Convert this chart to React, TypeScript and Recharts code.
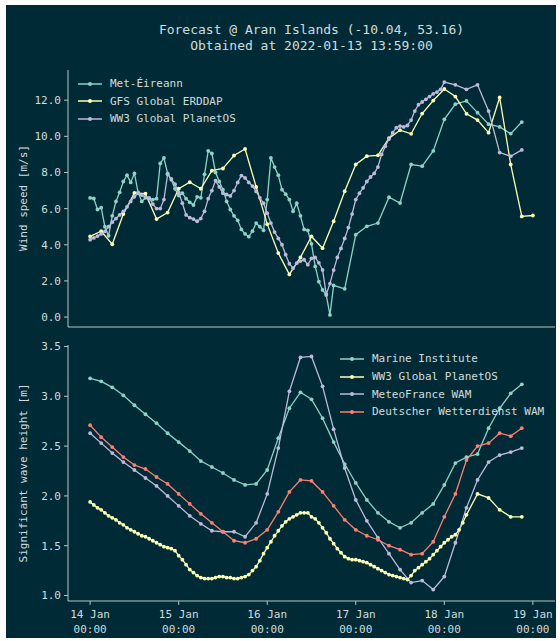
import React from "react";
import { LineChart, Line, XAxis, YAxis, Legend } from "recharts";

const BG = "#002b36";
const FG = "#d2dcdc";
const SPINE = "#b4c6c6";
const MONO = "'DejaVu Sans Mono', monospace";

const TEAL = "#8dd3c7";
const YELLOW = "#ffffb3";
const LAVENDER = "#bebada";
const SALMON = "#fb8072";

// x in hours from 14 Jan 00:00
const xTicks = [0, 24, 48, 72, 96, 120];
const dayLabels = ["14 Jan", "15 Jan", "16 Jan", "17 Jan", "18 Jan", "19 Jan"];
const windTicks = [0, 2, 4, 6, 8, 10, 12];
const waveTicks = [1.0, 1.5, 2.0, 2.5, 3.0, 3.5];

// wind speed [m/s]
const metEireannHourly = [
  6.59, 6.56, 5.95, 6.05, 5.0, 4.5, 5.6, 6.4, 6.9, 7.5,
  7.85, 7.45, 7.95, 6.9, 6.4, 6.6, 6.55, 6.5, 6.55, 8.5,
  8.8, 7.95, 7.6, 7.1, 6.72, 6.85, 6.55, 6.35, 6.2, 6.65,
  6.6, 7.9, 9.2, 9.05, 8.0, 7.5, 7.05, 6.4, 5.95, 5.6,
  5.35, 4.85, 4.6, 4.45, 4.75, 5.2, 5.0, 4.8, 6.5, 8.8,
  8.3, 7.85, 7.05, 6.8, 6.5, 5.85, 6.3, 5.6, 4.85, 4.8,
  4.05, 2.8, 1.96, 1.5, 1.22, 0.12, 1.75,
];
const metEireann3h = [1.56, 4.56, 5.02, 5.2, 6.63, 6.31, 8.44, 8.35, 9.19, 10.94, 11.78, 11.96, 11.31, 10.67, 10.52, 10.15, 10.79];

const gfsWind = [
  4.46, 4.75, 4.03, 5.7, 6.87, 6.83, 5.42, 5.78, 7.1, 7.46,
  7.1, 8.1, 8.22, 8.94, 9.3, 7.2, 5.14, 3.54, 2.36, 3.3,
  4.46, 3.81, 5.3, 6.96, 8.44, 8.9, 8.95, 9.9, 10.34, 10.14,
  11.26, 11.98, 12.62, 12.2, 11.25, 10.9, 10.2, 12.15, 8.44, 5.57, 5.62,
];

const ww3WindHourly = [
  4.28, 4.38, 4.48, 4.6, 4.74, 5.0, 5.25, 5.45, 5.65, 5.85,
  6.1, 6.4, 6.65, 6.85, 6.75, 6.65, 6.6, 6.25, 6.0, 6.0,
  6.5, 7.9, 7.65, 7.35, 6.9, 6.3, 5.65, 5.5, 5.42, 5.3,
  5.45, 5.85, 6.55, 7.0, 7.55, 7.2, 6.85, 6.78, 6.7, 7.0,
  7.45, 7.83, 7.7, 7.45, 7.25, 6.95, 6.6, 6.3, 5.75, 5.2,
  4.7, 4.35, 4.0, 3.45, 2.95, 2.7, 2.98, 3.1, 3.17, 2.9,
  3.25, 3.3, 3.0, 2.61, 1.25, 1.85, 2.6, 3.3, 3.8, 4.35,
  4.95, 5.7, 6.5, 6.85, 7.15, 7.5, 7.75, 7.95, 8.3, 9.0,
  9.45, 9.85, 10.2, 10.48, 10.57, 10.52, 10.6, 10.9, 11.4, 11.75,
  11.9, 12.05, 12.2, 12.35, 12.45, 12.6, 13.0,
];
const ww3Wind3h = [12.85, 12.6, 12.85, 11.4, 9.1, 8.9, 9.25];

// significant wave height [m]
const marineInstitute = [
  3.18, 3.15, 3.09, 3.01, 2.91, 2.82, 2.73, 2.63, 2.54, 2.45,
  2.35, 2.29, 2.23, 2.16, 2.11, 2.12, 2.26, 2.58, 2.88, 3.04,
  2.97, 2.78, 2.54, 2.32, 2.13, 1.96, 1.83, 1.74, 1.68, 1.73,
  1.83, 1.92, 2.11, 2.33, 2.39, 2.42, 2.68, 2.88, 3.03, 3.12,
];
const ww3WaveHourly = [
  1.94, 1.91, 1.88, 1.86, 1.83, 1.8, 1.78, 1.76, 1.73, 1.71,
  1.68, 1.66, 1.64, 1.62, 1.6, 1.59, 1.57, 1.55, 1.53, 1.51,
  1.49, 1.48, 1.47, 1.45, 1.4, 1.36, 1.31, 1.26, 1.23, 1.2,
  1.18, 1.17, 1.17, 1.17, 1.18, 1.19, 1.19, 1.18, 1.18, 1.17,
  1.17, 1.18, 1.19, 1.21, 1.25, 1.29, 1.35, 1.42, 1.48, 1.54,
  1.6, 1.65, 1.7, 1.74, 1.77, 1.79, 1.81, 1.83, 1.83, 1.83,
  1.79, 1.77, 1.73, 1.68, 1.63, 1.57, 1.52, 1.47, 1.43, 1.39,
  1.37, 1.36, 1.36, 1.35, 1.34, 1.33, 1.31, 1.29, 1.27, 1.25,
  1.23, 1.21, 1.2, 1.19, 1.18, 1.17, 1.16, 1.2, 1.25, 1.28,
  1.31, 1.34, 1.37, 1.41, 1.45, 1.49, 1.53, 1.56, 1.59, 1.61,
  1.66, 1.73, 1.81,
];
const ww3Wave3h = [2.02, 1.98, 1.86, 1.79, 1.79];
const meteoFrance = [
  2.63, 2.53, 2.43, 2.34, 2.26, 2.18, 2.1, 2.0, 1.9, 1.8,
  1.72, 1.65, 1.64, 1.64, 1.59, 1.73, 2.02, 2.48, 3.05, 3.39,
  3.4, 3.1, 2.67, 2.28, 1.96, 1.75, 1.58, 1.42, 1.26, 1.13,
  1.15, 1.06, 1.19, 1.53, 1.88, 2.16, 2.34, 2.41, 2.44, 2.48,
];
const dwd = [
  2.71, 2.59, 2.49, 2.39, 2.31, 2.27, 2.19, 2.12, 2.02, 1.92,
  1.82, 1.73, 1.64, 1.55, 1.53, 1.57, 1.66, 1.84, 2.04, 2.16,
  2.15, 2.04, 1.9, 1.76, 1.66, 1.6, 1.56, 1.5, 1.46, 1.41,
  1.42, 1.54, 1.79, 2.02, 2.36, 2.5, 2.53, 2.63, 2.6, 2.68,
];

// time axis: first hour and step of each block
const pts = (start: number, step: number, vals: number[]) =>
  vals.map((v, i) => ({ h: start + i * step, v }));

const windSeries = [
  { name: "Met-Éireann", color: TEAL, data: [...pts(0, 1, metEireannHourly), ...pts(69, 3, metEireann3h)] },
  { name: "GFS Global ERDDAP", color: YELLOW, data: pts(0, 3, gfsWind) },
  { name: "WW3 Global PlanetOS", color: LAVENDER, data: [...pts(0, 1, ww3WindHourly), ...pts(99, 3, ww3Wind3h)] },
];

const waveSeries = [
  { name: "Marine Institute", color: TEAL, data: pts(0, 3, marineInstitute) },
  { name: "WW3 Global PlanetOS", color: YELLOW, data: [...pts(0, 1, ww3WaveHourly), ...pts(105, 3, ww3Wave3h)] },
  { name: "MeteoFrance WAM", color: LAVENDER, data: pts(0, 3, meteoFrance) },
  { name: "Deutscher Wetterdienst WAM", color: SALMON, data: pts(0, 3, dwd) },
];

const X_DOMAIN: [number, number] = [-6, 126];
const WIND_DOMAIN: [number, number] = [-0.55, 13.67];
const WAVE_DOMAIN: [number, number] = [0.945, 3.515];

const tickStyle = { fill: FG, fontSize: 11, fontFamily: MONO };

const DateTick = (props: any) => {
  const { x, y, payload } = props;
  const i = xTicks.indexOf(payload.value);
  return (
    <text x={x} y={y} textAnchor="middle" fill={FG} fontSize={11} fontFamily={MONO}>
      <tspan x={x} dy={11}>{dayLabels[i]}</tspan>
      <tspan x={x} dy={15}>00:00</tspan>
    </text>
  );
};

const LegendBox = ({ items, rowH }: { items: { name: string; color: string }[]; rowH: number }) => (
  <div style={{ fontFamily: MONO, fontSize: 11, color: FG }}>
    {items.map((it) => (
      <div key={it.name} style={{ display: "flex", alignItems: "center", height: rowH, whiteSpace: "nowrap" }}>
        <svg width={24} height={8} style={{ marginRight: 8 }}>
          <line x1={0} y1={4} x2={24} y2={4} stroke={it.color} strokeWidth={1.5} />
          <circle cx={12} cy={4} r={2} fill={it.color} />
        </svg>
        <span>{it.name}</span>
      </div>
    ))}
  </div>
);

const frameAxes = (domain: [number, number]) => [
  <XAxis key="xt" xAxisId="t" orientation="top" dataKey="h" type="number" domain={X_DOMAIN} allowDataOverflow height={0} tick={false} tickLine={false} stroke={SPINE} />,
  <YAxis key="yr" yAxisId="r" orientation="right" type="number" domain={domain} allowDataOverflow width={0} tick={false} tickLine={false} stroke={SPINE} />,
];

export default function App() {
  return (
    <div style={{ position: "absolute", left: 6, top: 5, width: 550, height: 633, background: BG, fontFamily: MONO, color: FG }}>
      <div style={{ position: "absolute", left: 62, top: 17, width: 487, textAlign: "center", fontSize: 13, lineHeight: "16px", whiteSpace: "pre" }}>
        {"Forecast @ Aran Islands (-10.04, 53.16)\nObtained at 2022-01-13 13:59:00"}
      </div>

      <div style={{ position: "absolute", left: 17, top: 193, transform: "translate(-50%, -50%) rotate(-90deg)", fontSize: 11, whiteSpace: "nowrap" }}>
        Wind speed [m/s]
      </div>
      <div style={{ position: "absolute", left: 17, top: 468, transform: "translate(-50%, -50%) rotate(-90deg)", fontSize: 11, whiteSpace: "nowrap" }}>
        Significant wave height [m]
      </div>

      <div style={{ position: "absolute", left: 0, top: 0 }}>
        <LineChart width={550} height={340} margin={{ top: 65, right: 1, bottom: 0, left: 0 }}>
          <XAxis xAxisId="b" dataKey="h" type="number" domain={X_DOMAIN} ticks={xTicks} allowDataOverflow height={18} stroke={SPINE} tick={false} tickSize={4} />
          <YAxis yAxisId="l" type="number" domain={WIND_DOMAIN} ticks={windTicks} allowDataOverflow width={62} stroke={SPINE} tick={tickStyle} tickSize={4} tickMargin={3} tickFormatter={(v: number) => v.toFixed(1)} />
          {frameAxes(WIND_DOMAIN)}
          {windSeries.map((s) => (
            <Line key={s.name} xAxisId="b" yAxisId="l" data={s.data} dataKey="v" name={s.name} type="linear" stroke={s.color} strokeWidth={1.3} dot={{ r: 1.9, fill: s.color, stroke: "none" }} activeDot={false} isAnimationActive={false} />
          ))}
          <Legend layout="vertical" align="center" verticalAlign="middle" wrapperStyle={{ top: 70, left: 72, width: "auto", height: "auto" }} content={() => <LegendBox items={windSeries} rowH={17.5} />} />
        </LineChart>
      </div>

      <div style={{ position: "absolute", left: 0, top: 330 }}>
        <LineChart width={550} height={303} margin={{ top: 10, right: 1, bottom: 0, left: 0 }}>
          <XAxis xAxisId="b" dataKey="h" type="number" domain={X_DOMAIN} ticks={xTicks} allowDataOverflow height={37} stroke={SPINE} tick={<DateTick />} tickSize={4} tickMargin={2} />
          <YAxis yAxisId="l" type="number" domain={WAVE_DOMAIN} ticks={waveTicks} allowDataOverflow width={62} stroke={SPINE} tick={tickStyle} tickSize={4} tickMargin={3} tickFormatter={(v: number) => v.toFixed(1)} />
          {frameAxes(WAVE_DOMAIN)}
          {waveSeries.map((s) => (
            <Line key={s.name} xAxisId="b" yAxisId="l" data={s.data} dataKey="v" name={s.name} type="linear" stroke={s.color} strokeWidth={1.3} dot={{ r: 1.9, fill: s.color, stroke: "none" }} activeDot={false} isAnimationActive={false} />
          ))}
          <Legend layout="vertical" align="center" verticalAlign="middle" wrapperStyle={{ top: 15, left: 334, width: "auto", height: "auto" }} content={() => <LegendBox items={waveSeries} rowH={17.7} />} />
        </LineChart>
      </div>
    </div>
  );
}
